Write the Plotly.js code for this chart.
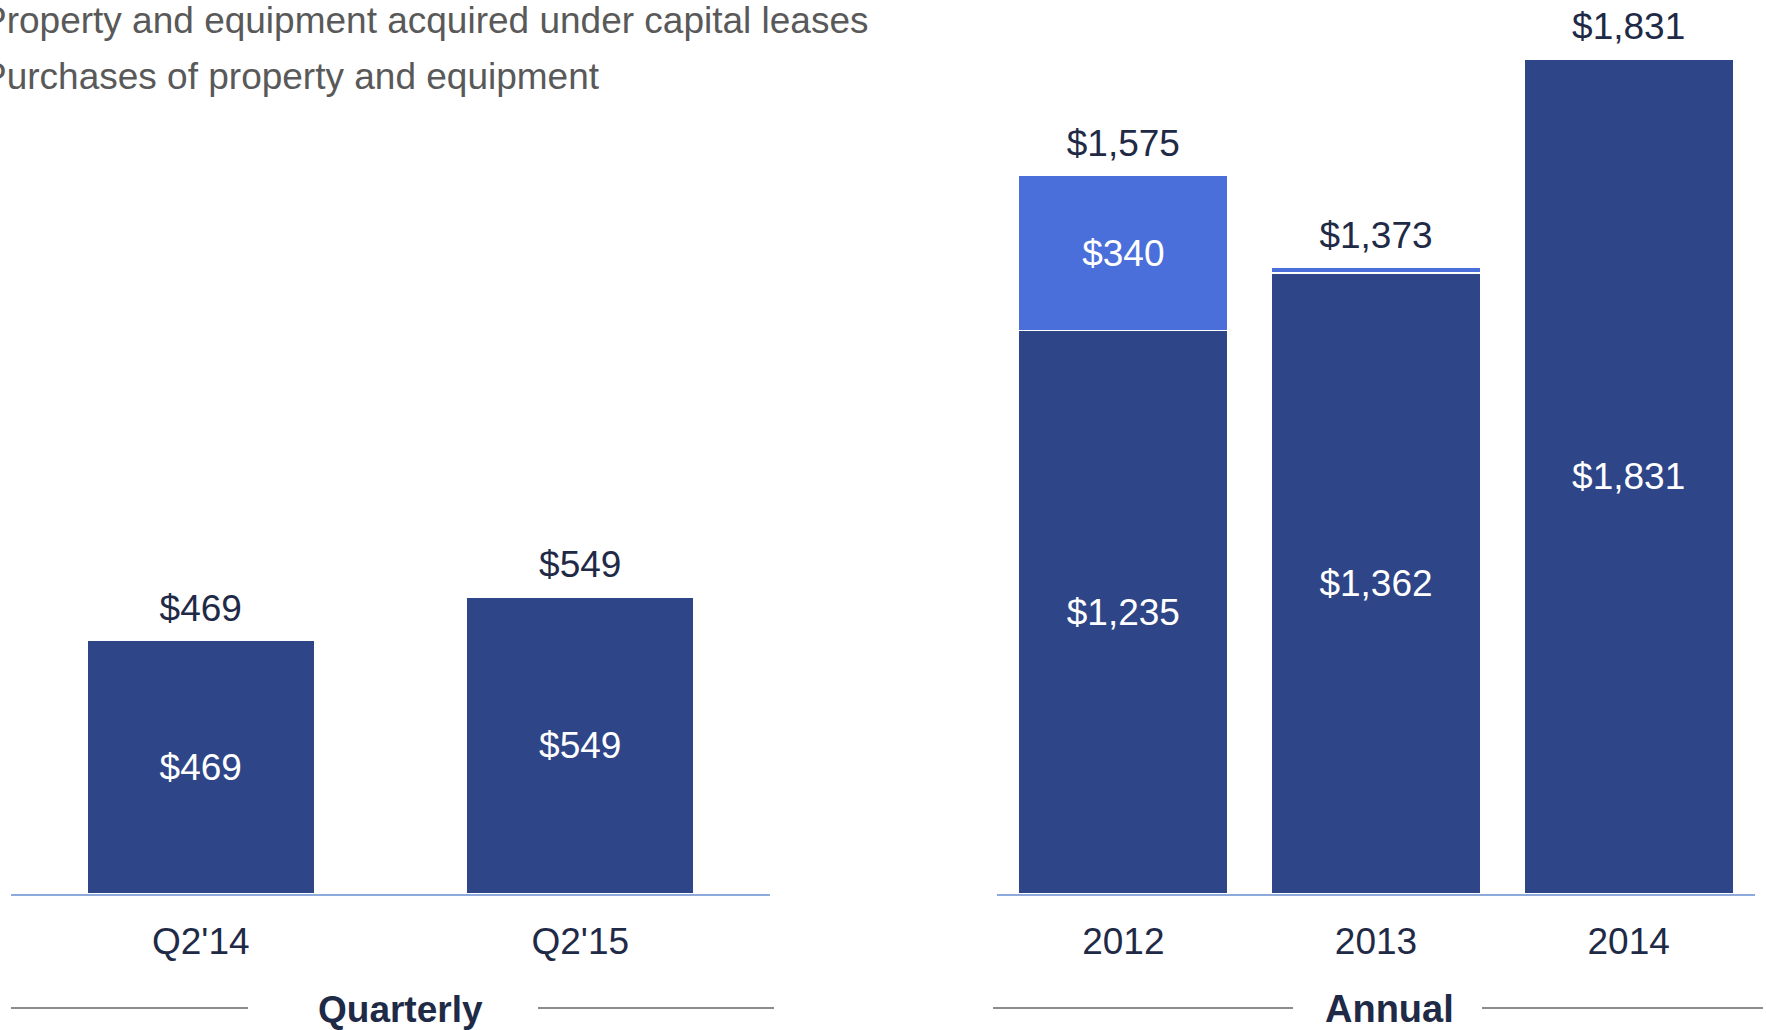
<!DOCTYPE html>
<html>
<head>
<meta charset="utf-8">
<script src="https://cdn.plot.ly/plotly-3.0.1.min.js"></script>
<style>
  html, body { margin: 0; padding: 0; background: #ffffff; }
  #chart { width: 1766px; height: 1030px; }
</style>
</head>
<body>
<div id="chart"></div>
<script>
// ---- Data ----
const quarterCategories = ["Q2'14", "Q2'15"];
const quarterPurchases = [469, 549];
const quarterLeases = [0, 0];

const annualCategories = ["2012", "2013", "2014"];
const annualPurchases = [1235, 1362, 1831];
const annualLeases = [340, 11, 0];

const seriesNames = ["Purchases of property and equipment", "Property and equipment acquired under capital leases"];
const panelTitles = ["Quarterly", "Annual"];

// ---- Styling ----
const DARK = '#2E4587';
const LIGHT = '#4A6FDB';
const NAVY = '#1F2A47';
const FONT = 'Liberation Sans, Arial, sans-serif';

const fmt = v => '$' + v.toLocaleString('en-US');
const sum = (a, b) => a.map((v, i) => v + b[i]);

const quarterTotals = sum(quarterPurchases, quarterLeases);
const annualTotals = sum(annualPurchases, annualLeases);

function purchasesTrace(x, y, xa, ya, showlegend) {
  return {
    type: 'bar', x: x, y: y, xaxis: xa, yaxis: ya,
    name: seriesNames[0], legendgroup: 'p', legendrank: 2, showlegend: showlegend,
    marker: { color: DARK, line: { color: '#ffffff', width: 1.5 } },
    text: y.map(v => v > 0 ? fmt(v) : ''),
    textposition: 'inside', insidetextanchor: 'middle', textangle: 0,
    constraintext: 'none',
    insidetextfont: { family: FONT, size: 37, color: '#ffffff' },
    hoverinfo: 'skip'
  };
}
function leasesTrace(x, y, xa, ya, showlegend) {
  return {
    type: 'bar', x: x, y: y, xaxis: xa, yaxis: ya,
    name: seriesNames[1], legendgroup: 'l', legendrank: 1, showlegend: showlegend,
    marker: { color: LIGHT, line: { color: '#ffffff', width: 1.5 } },
    text: y.map(v => v > 50 ? fmt(v) : ''),
    textposition: 'inside', insidetextanchor: 'middle', textangle: 0,
    constraintext: 'none',
    insidetextfont: { family: FONT, size: 37, color: '#ffffff' },
    hoverinfo: 'skip'
  };
}
function totalsTrace(x, y, xa, ya) {
  return {
    type: 'scatter', mode: 'markers+text', x: x, y: y, xaxis: xa, yaxis: ya,
    marker: { size: 15, color: 'rgba(0,0,0,0)' },
    text: y.map(fmt), textposition: 'top center',
    textfont: { family: FONT, size: 37, color: NAVY },
    showlegend: false, hoverinfo: 'skip', cliponaxis: false
  };
}

const data = [
  purchasesTrace(quarterCategories, quarterPurchases, 'x', 'y', true),
  leasesTrace(quarterCategories, quarterLeases, 'x', 'y', true),
  purchasesTrace(annualCategories, annualPurchases, 'x2', 'y2', false),
  leasesTrace(annualCategories, annualLeases, 'x2', 'y2', false),
  totalsTrace(quarterCategories, quarterTotals, 'x', 'y'),
  totalsTrace(annualCategories, annualTotals, 'x2', 'y2')
];
data[0].width = 0.6; data[1].width = 0.6;
data[2].width = 0.83; data[3].width = 0.83;

const W = 1766, H = 1030;
const baseY = 1 - 894 / H;

const xaxisCommon = {
  type: 'category', showgrid: false, zeroline: false,
  showline: true, linecolor: '#8EA9DB', linewidth: 2,
  ticks: 'outside', ticklen: 14, tickcolor: 'rgba(0,0,0,0)',
  tickfont: { family: FONT, size: 37, color: NAVY },
  fixedrange: true
};
const yaxisCommon = {
  showgrid: false, zeroline: false, showline: false, showticklabels: false,
  ticks: '', fixedrange: true
};

const sepColor = '#8C8C8C';
const sepY = 1 - 1008 / H;
const shapes = [
  { type: 'line', xref: 'paper', yref: 'paper', x0: 11 / W, x1: 248 / W, y0: sepY, y1: sepY, line: { color: sepColor, width: 2 } },
  { type: 'line', xref: 'paper', yref: 'paper', x0: 538 / W, x1: 774 / W, y0: sepY, y1: sepY, line: { color: sepColor, width: 2 } },
  { type: 'line', xref: 'paper', yref: 'paper', x0: 993 / W, x1: 1293 / W, y0: sepY, y1: sepY, line: { color: sepColor, width: 2 } },
  { type: 'line', xref: 'paper', yref: 'paper', x0: 1482 / W, x1: 1763 / W, y0: sepY, y1: sepY, line: { color: sepColor, width: 2 } }
];
const annotations = [
  { xref: 'paper', yref: 'paper', x: 400 / W, y: 1 - 1009 / H, text: '<b>' + panelTitles[0] + '</b>', showarrow: false,
    xanchor: 'center', yanchor: 'middle', font: { family: FONT, size: 37, color: NAVY } },
  { xref: 'paper', yref: 'paper', x: 1389 / W, y: 1 - 1009 / H, text: '<b>' + panelTitles[1] + '</b>', showarrow: false,
    xanchor: 'center', yanchor: 'middle', font: { family: FONT, size: 38, color: NAVY } }
];

const layout = {
  width: W, height: H,
  margin: { l: 0, r: 0, t: 0, b: 0, pad: 0, autoexpand: false },
  paper_bgcolor: '#ffffff', plot_bgcolor: '#ffffff',
  barmode: 'stack', bargap: 0.4,
  showlegend: true,
  legend: {
    x: -58 / W, xanchor: 'left', y: 1 + 12 / H, yanchor: 'top',
    traceorder: 'grouped', tracegroupgap: 5,
    font: { family: FONT, size: 37, color: '#595959' },
    bgcolor: 'rgba(0,0,0,0)', borderwidth: 0
  },
  xaxis: Object.assign({}, xaxisCommon, { domain: [11 / W, 770 / W], range: [-0.5, 1.5], anchor: 'y' }),
  yaxis: Object.assign({}, yaxisCommon, { domain: [baseY, 1], range: [0, 1652], anchor: 'x' }),
  xaxis2: Object.assign({}, xaxisCommon, { domain: [997 / W, 1755 / W], range: [-0.5, 2.5], anchor: 'y2' }),
  yaxis2: Object.assign({}, yaxisCommon, { domain: [baseY, 1], range: [0, 1960], anchor: 'x2' }),
  shapes: shapes,
  annotations: annotations,
  font: { family: FONT }
};

Plotly.newPlot('chart', data, layout, { displayModeBar: false, staticPlot: true });
</script>
</body>
</html>
